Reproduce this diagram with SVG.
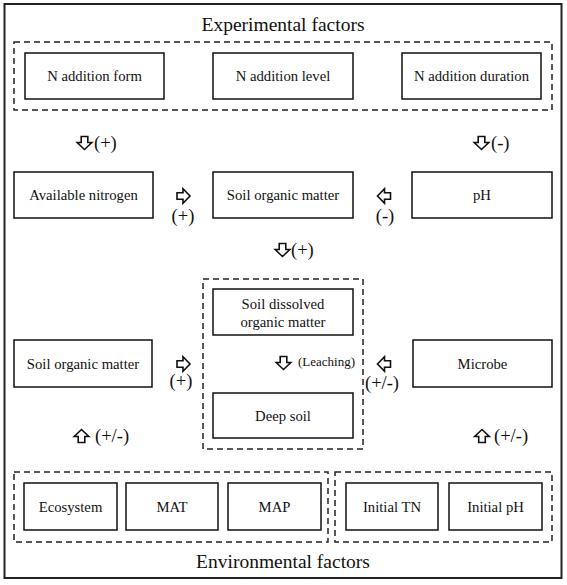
<svg xmlns="http://www.w3.org/2000/svg" width="567" height="585" viewBox="0 0 567 585">
<style>
text{font-family:"Liberation Serif","Times New Roman",serif;fill:#111;text-anchor:middle}
.box{fill:#fff;stroke:#111;stroke-width:1.5}
.dash{fill:none;stroke:#222;stroke-width:1.5;stroke-dasharray:6 4}
.t{font-size:14.7px}
.title{font-size:19.5px}
.sg{font-size:18.5px}
.sg.l{text-anchor:start}
.sm{font-size:13px;text-anchor:start}
.arr{fill:#fff;stroke:#111;stroke-width:1.6;stroke-linejoin:miter}
</style>
<defs>
<path id="ad" d="M-3.3,-6.5 H3.3 V-0.5 H7.3 L0,6.5 L-7.3,-0.5 H-3.3 Z"/>
</defs>
<rect x="0" y="0" width="567" height="585" fill="#fff"/>
<rect x="4.5" y="4" width="557" height="574" fill="none" stroke="#222" stroke-width="2"/>
<text class="title" x="283" y="31">Experimental factors</text>
<text class="title" x="283" y="568">Environmental factors</text>

<g id="groups">
<rect class="dash" x="14" y="42" width="538" height="68"/>
<rect class="dash" x="203" y="279" width="160" height="170"/>
<rect class="dash" x="14" y="472" width="314" height="70"/>
<rect class="dash" x="335" y="472" width="217" height="70"/>
</g>

<g id="n-form"><rect class="box" x="25" y="53" width="139" height="46"/><text class="t" x="94.5" y="81">N addition form</text></g>
<g id="n-level"><rect class="box" x="213" y="53" width="140" height="46"/><text class="t" x="283" y="81">N addition level</text></g>
<g id="n-duration"><rect class="box" x="402" y="53" width="139" height="46"/><text class="t" x="471.5" y="81">N addition duration</text></g>

<g id="avail-n"><rect class="box" x="14" y="172" width="139" height="46"/><text class="t" x="83.5" y="200">Available nitrogen</text></g>
<g id="som1"><rect class="box" x="213" y="172" width="140" height="46"/><text class="t" x="283" y="200">Soil organic matter</text></g>
<g id="ph"><rect class="box" x="412" y="172" width="140" height="46"/><text class="t" x="482" y="200">pH</text></g>

<g id="som2"><rect class="box" x="14" y="340" width="138" height="47"/><text class="t" x="83" y="368.5">Soil organic matter</text></g>
<g id="microbe"><rect class="box" x="413" y="340" width="139" height="47"/><text class="t" x="482.5" y="368.5">Microbe</text></g>
<g id="dom"><rect class="box" x="213" y="289" width="140" height="46"/><text class="t" x="283" y="309">Soil dissolved</text><text class="t" x="283" y="327">organic matter</text></g>
<g id="deep"><rect class="box" x="213" y="393" width="140" height="45"/><text class="t" x="283" y="420.5">Deep soil</text></g>

<g id="ecosystem"><rect class="box" x="24" y="483" width="93" height="47"/><text class="t" x="70.5" y="511.5">Ecosystem</text></g>
<g id="mat"><rect class="box" x="126" y="483" width="92" height="47"/><text class="t" x="172" y="511.5">MAT</text></g>
<g id="map"><rect class="box" x="228" y="483" width="93" height="47"/><text class="t" x="274.5" y="511.5">MAP</text></g>
<g id="init-tn"><rect class="box" x="346" y="483" width="92" height="47"/><text class="t" x="392" y="511.5">Initial TN</text></g>
<g id="init-ph"><rect class="box" x="449" y="483" width="93" height="47"/><text class="t" x="495.5" y="511.5">Initial pH</text></g>

<g id="connectors">
<use href="#ad" class="arr" transform="translate(84.5,143)"/>
<text class="sg l" x="94" y="149">(+)</text>
<use href="#ad" class="arr" transform="translate(481.5,143)"/>
<text class="sg l" x="491" y="149">(-)</text>

<use href="#ad" class="arr" transform="translate(183.5,196) rotate(-90)"/>
<text class="sg" x="183" y="222">(+)</text>
<use href="#ad" class="arr" transform="translate(384,196) rotate(90)"/>
<text class="sg" x="385" y="222">(-)</text>

<use href="#ad" class="arr" transform="translate(282.5,250)"/>
<text class="sg l" x="291" y="256">(+)</text>

<use href="#ad" class="arr" transform="translate(183.5,364) rotate(-90)"/>
<text class="sg" x="181" y="387">(+)</text>
<use href="#ad" class="arr" transform="translate(384,364) rotate(90)"/>
<text class="sg" x="382" y="389">(+/-)</text>

<use href="#ad" class="arr" transform="translate(283.5,363)"/>
<text class="sm" x="298" y="366">(Leaching)</text>

<use href="#ad" class="arr" transform="translate(81.5,436) rotate(180)"/>
<text class="sg l" x="95" y="442">(+/-)</text>
<use href="#ad" class="arr" transform="translate(482,436) rotate(180)"/>
<text class="sg l" x="494" y="442">(+/-)</text>
</g>
</svg>
